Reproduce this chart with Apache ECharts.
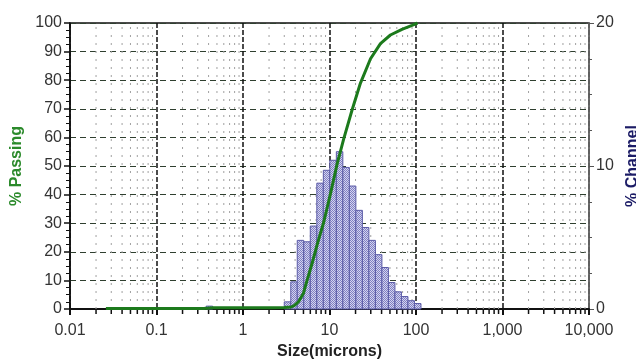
<!DOCTYPE html>
<html>
<head>
<meta charset="utf-8">
<script src="https://cdn.jsdelivr.net/npm/echarts@6/dist/echarts.min.js"></script>
<style>
  html, body { margin: 0; padding: 0; background: #fff; }
  #chart { width: 636px; height: 361px; }
</style>
</head>
<body>
<div id="chart"></div>
<script>
// % channel histogram, bars centred on the bin size (microns)
const binSizes = [0.409, 3.27, 3.89, 4.62, 5.5, 6.54, 7.78, 9.25, 11, 13.08, 15.56, 18.5, 22, 26.16, 31.11, 37, 44, 52.33, 62.23, 74, 88, 104.7]
const channelPct = [0.2, 0.5, 1.9, 4.8, 4.7, 5.8, 8.8, 9.7, 10.4, 11.0, 9.9, 8.6, 6.9, 5.7, 4.8, 3.8, 2.9, 1.85, 1.2, 0.87, 0.58, 0.38]

// cumulative % passing curve
const passSizes = [0.026, 0.1, 0.35, 0.45, 1, 2, 3, 3.6, 3.9, 4.4, 5.0, 5.5, 6.3, 7.2, 8.6, 10.3, 12.2, 14.6, 18.2, 22.8, 29.8, 38.8, 50.6, 68.8, 90, 104]
const passPct = [0.2, 0.2, 0.2, 0.4, 0.4, 0.4, 0.5, 0.7, 1.2, 2.6, 5.5, 10, 16, 22.5, 30.5, 40.5, 50.5, 59.5, 69.5, 79, 87.5, 92.8, 95.8, 97.8, 99.2, 100]

const xTickLabels = ['0.01', '0.1', '1', '10', '100', '1,000', '10,000']
const decades = [0.01, 0.1, 1, 10, 100, 1000]

const minorTicks = []
decades.forEach((d) => {
  for (let k = 2; k <= 9; k++) minorTicks.push([d * k, 0])
})

// checkered fill like the original bars
const pat = document.createElement('canvas')
pat.width = 2
pat.height = 2
const pc = pat.getContext('2d')
pc.fillStyle = '#d4d4f0'
pc.fillRect(0, 0, 2, 2)
pc.fillStyle = '#8080c2'
pc.fillRect(0, 0, 1, 1)
pc.fillRect(1, 1, 1, 1)

const half = Math.pow(2, 1 / 8)
const font = 'Liberation Sans, Arial, sans-serif'

const chart = echarts.init(document.getElementById('chart'))
chart.setOption({
  animation: false,
  grid: {
    left: 70, right: 47, top: 23, bottom: 52,
    outerBoundsMode: 'none',
    show: true, borderColor: '#111', borderWidth: 1.5,
  },
  xAxis: {
    type: 'log',
    logBase: 10,
    min: 0.01,
    max: 10000,
    name: 'Size(microns)',
    nameLocation: 'middle',
    nameGap: 34,
    nameTextStyle: { fontFamily: font, fontSize: 16, fontWeight: 'bold', color: '#222' },
    axisLine: { lineStyle: { color: '#111', width: 2 } },
    axisTick: { length: 6, lineStyle: { color: '#111', width: 2 } },
    axisLabel: {
      fontFamily: font, fontSize: 16, color: '#333', margin: 14,
      formatter: (v) => xTickLabels[Math.round(Math.log10(v)) + 2],
    },
    splitLine: { show: true, lineStyle: { color: '#111', width: 1.5, type: [5, 2] } },
  },
  yAxis: [
    {
      type: 'value',
      min: 0,
      max: 100,
      interval: 10,
      name: '% Passing',
      nameLocation: 'middle',
      nameGap: 44,
      nameTextStyle: { fontFamily: font, fontSize: 16, fontWeight: 'bold', color: '#2b8a2b' },
      axisLine: { show: true, lineStyle: { color: '#111', width: 1.5 } },
      axisTick: { show: true, length: 6, lineStyle: { color: '#111', width: 1.5 } },
      minorTick: { show: true, splitNumber: 4, length: 4, lineStyle: { color: '#111', width: 1 } },
      axisLabel: { fontFamily: font, fontSize: 16, color: '#333', margin: 8 },
      splitLine: { lineStyle: { color: '#2f3f2f', width: 1.2, type: [6, 4] } },
    },
    {
      type: 'value',
      min: 0,
      max: 20,
      interval: 10,
      position: 'right',
      name: '% Channel',
      nameLocation: 'middle',
      nameRotate: 90,
      nameGap: 34,
      nameTextStyle: { fontFamily: font, fontSize: 16, fontWeight: 'bold', color: '#1c1c66' },
      axisLine: { show: true, lineStyle: { color: '#777', width: 1.5 } },
      axisTick: { show: true, length: 5, lineStyle: { color: '#555', width: 1 } },
      minorTick: { show: true, splitNumber: 4, length: 3, lineStyle: { color: '#555', width: 1 } },
      axisLabel: { fontFamily: font, fontSize: 16, color: '#333', margin: 7 },
      splitLine: { show: false },
    },
  ],
  series: [
    {
      // minor log gridlines and ticks (2..9 of each decade)
      type: 'custom',
      silent: true,
      z: 1,
      data: minorTicks,
      encode: { x: 0, y: 1 },
      renderItem(params, api) {
        const v = api.value(0)
        const bot = api.coord([v, 0])
        const top = api.coord([v, 100])
        return {
          type: 'group',
          children: [
            { type: 'line', shape: { x1: bot[0], y1: bot[1], x2: top[0], y2: top[1] }, style: { stroke: '#a0a0a0', lineWidth: 1, lineDash: [2, 6] } },
            { type: 'line', shape: { x1: bot[0], y1: bot[1], x2: bot[0], y2: bot[1] + 5 }, style: { stroke: '#111', lineWidth: 1.5 } },
          ],
        }
      },
    },
    {
      name: '% Channel',
      type: 'custom',
      yAxisIndex: 1,
      z: 2,
      data: binSizes.map((s, i) => [s, channelPct[i]]),
      encode: { x: 0, y: 1 },
      renderItem(params, api) {
        const c = api.value(0)
        const p1 = api.coord([c / half, api.value(1)])
        const p2 = api.coord([c * half, 0])
        return {
          type: 'rect',
          shape: { x: p1[0], y: p1[1], width: p2[0] - p1[0], height: p2[1] - p1[1] },
          style: { fill: { image: pat, repeat: 'repeat' }, stroke: '#5a5aa6', lineWidth: 1 },
        }
      },
    },
    {
      name: '% Passing',
      type: 'line',
      z: 3,
      data: passSizes.map((s, i) => [s, passPct[i]]),
      showSymbol: false,
      lineStyle: { color: '#1c7a1c', width: 3 },
    },
  ],
})
</script>
</body>
</html>
